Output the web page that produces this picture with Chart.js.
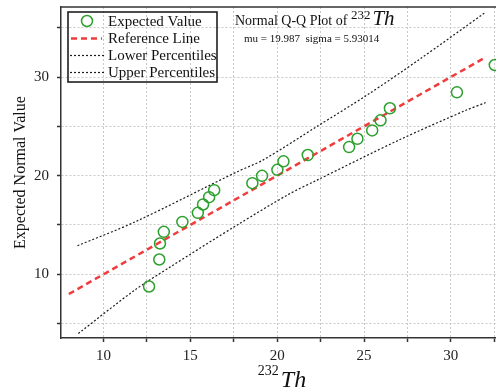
<!DOCTYPE html>
<html>
<head>
<meta charset="utf-8">
<script src="https://cdn.jsdelivr.net/npm/chart.js@4"></script>
<style>
  body { margin: 0; background: #fff; }
  #wrap { width: 496px; height: 390px; }
</style>
</head>
<body>
<div id="wrap"><canvas id="qq" width="496" height="390"></canvas></div>
<script>
// 232Th measured values (x) vs expected normal value (y)
const thValues = [12.62, 13.21, 13.25, 13.47, 14.54, 15.43, 15.73, 16.08, 16.37, 18.57, 19.13,
  20.01, 20.36, 21.76, 24.14, 24.62, 25.47, 25.95, 26.49, 30.35, 32.53];
const expectedValues = [8.76, 11.5, 13.12, 14.3, 15.31, 16.23, 17.08, 17.82, 18.53, 19.24, 19.98,
  20.59, 21.45, 22.09, 22.9, 23.74, 24.59, 25.61, 26.83, 28.45, 31.22];

const refX = [8.0, 32.0];
const refY = [8.0, 32.0];

const upperX = [8.5, 11.8, 17.7, 19.2, 22.3, 25.2, 28.2, 31.95];
const upperY = [12.9, 15.3, 20.4, 21.6, 25.0, 28.2, 31.8, 36.5];
const lowerX = [8.55, 11.8, 13.8, 17.7, 20.65, 22.3, 27.0, 30.9, 32.0];
const lowerY = [4.0, 8.4, 10.7, 15.0, 18.1, 19.55, 23.6, 26.65, 27.4];

const xTicks = [10, 12.5, 15, 17.5, 20, 22.5, 25, 27.5, 30, 32.5];
const yTicks = [5, 10, 15, 20, 25, 30, 35];

const labels = ["Expected Value", "Reference Line", "Lower Percentiles", "Upper Percentiles"];
const mu = 19.987, sigma = 5.93014;

const SERIF = "'Liberation Serif', 'DejaVu Serif', serif";
const green = "rgb(44,160,44)";
const red = "rgb(240,60,60)";
const dark = "#1a1a1a";

const toXY = (xs, ys) => xs.map((x, i) => ({ x: x, y: ys[i] }));

// draws frame top, legend, in-plot title and axis titles
const decor = {
  id: "decor",
  afterDraw(chart) {
    const ctx = chart.ctx;
    const a = chart.chartArea;
    ctx.save();
    // top frame line
    ctx.strokeStyle = "#333";
    ctx.lineWidth = 1.5;
    ctx.beginPath();
    ctx.moveTo(a.left, a.top);
    ctx.lineTo(a.right, a.top);
    ctx.stroke();

    // legend box
    ctx.lineWidth = 1.5;
    ctx.strokeStyle = "#111";
    ctx.strokeRect(68, 12, 149, 70);
    const rows = [21, 38.5, 55.5, 72.5];
    ctx.font = "15px " + SERIF;
    ctx.fillStyle = "#111";
    ctx.textBaseline = "middle";
    rows.forEach((y, i) => {
      ctx.save();
      if (i === 0) {
        ctx.strokeStyle = green;
        ctx.lineWidth = 1.5;
        ctx.beginPath();
        ctx.arc(87, y, 5.5, 0, Math.PI * 2);
        ctx.stroke();
      } else if (i === 1) {
        ctx.strokeStyle = red;
        ctx.lineWidth = 2.5;
        ctx.setLineDash([6, 4]);
        ctx.beginPath();
        ctx.moveTo(71, y);
        ctx.lineTo(102, y);
        ctx.stroke();
      } else {
        ctx.strokeStyle = dark;
        ctx.lineWidth = 1.2;
        ctx.setLineDash([2, 2]);
        ctx.beginPath();
        ctx.moveTo(70, y);
        ctx.lineTo(104, y);
        ctx.stroke();
      }
      ctx.restore();
      ctx.fillText(labels[i], 108, y + 1);
    });

    // title inside plot
    ctx.textBaseline = "alphabetic";
    let x = 235;
    ctx.font = "14px " + SERIF;
    const t1 = "Normal Q-Q Plot of ";
    ctx.fillText(t1, x, 25);
    x += ctx.measureText(t1).width;
    ctx.font = "13px " + SERIF;
    ctx.fillText("232", x, 19);
    x += ctx.measureText("232").width + 2;
    ctx.font = "italic 21px " + SERIF;
    ctx.fillText("Th", x, 25);
    ctx.font = "11px " + SERIF;
    ctx.fillText("mu = " + mu + "  sigma = " + sigma, 244, 42);

    // x axis title
    ctx.font = "14px " + SERIF;
    const supW = ctx.measureText("232").width;
    ctx.font = "italic 24px " + SERIF;
    const thW = ctx.measureText("Th").width;
    let xt = 282 - (supW + thW + 2) / 2;
    ctx.font = "14px " + SERIF;
    ctx.fillText("232", xt, 375);
    ctx.font = "italic 24px " + SERIF;
    ctx.fillText("Th", xt + supW + 2, 387);

    // y axis title
    ctx.translate(21, (a.top + a.bottom) / 2);
    ctx.rotate(-Math.PI / 2);
    ctx.font = "16px " + SERIF;
    ctx.textAlign = "center";
    ctx.textBaseline = "middle";
    ctx.fillText("Expected Normal Value", 0, 0);
    ctx.restore();
  }
};

const gridCommon = {
  color: "#c8c8c8",
  lineWidth: 1,
  drawTicks: true,
  tickLength: 4,
  tickColor: "#333",
  tickWidth: 1.5,
  tickBorderDash: []
};

const noPad = (s) => {
  s.paddingTop = 0;
  s.paddingBottom = 0;
  s.paddingLeft = 0;
  s.paddingRight = 0;
};

new Chart(document.getElementById("qq"), {
  type: "scatter",
  data: {
    datasets: [
      {
        label: labels[0],
        data: toXY(thValues, expectedValues),
        pointRadius: 5.5,
        pointHoverRadius: 5.5,
        pointBorderWidth: 1.5,
        pointBorderColor: green,
        pointBackgroundColor: "rgba(0,0,0,0)",
        order: 0
      },
      {
        label: labels[1],
        data: toXY(refX, refY),
        showLine: true,
        pointRadius: 0,
        borderColor: red,
        borderWidth: 2.5,
        borderDash: [6, 4],
        order: 1
      },
      {
        label: labels[2],
        data: toXY(lowerX, lowerY),
        showLine: true,
        tension: 0.3,
        pointRadius: 0,
        borderColor: dark,
        borderWidth: 1.2,
        borderDash: [2, 2],
        order: 2
      },
      {
        label: labels[3],
        data: toXY(upperX, upperY),
        showLine: true,
        tension: 0.3,
        pointRadius: 0,
        borderColor: dark,
        borderWidth: 1.2,
        borderDash: [2, 2],
        order: 2
      }
    ]
  },
  options: {
    responsive: false,
    animation: false,
    events: [],
    layout: { autoPadding: false, padding: { top: 7, right: 0, left: 0, bottom: 0 } },
    plugins: {
      legend: { display: false },
      tooltip: { enabled: false }
    },
    scales: {
      x: {
        type: "linear",
        min: 7.55,
        max: 32.6,
        afterBuildTicks: (s) => { s.ticks = xTicks.map(v => ({ value: v })); },
        afterFit: (s) => { s.height = 52; noPad(s); },
        grid: gridCommon,
        border: { color: "#333", width: 1.5, dash: [2, 2] },
        ticks: {
          padding: 5,
          color: "#222",
          font: { family: SERIF, size: 15 },
          callback: (v) => (v % 5 === 0 ? v : "")
        }
      },
      y: {
        type: "linear",
        min: 3.54,
        max: 37.1,
        afterBuildTicks: (s) => { s.ticks = yTicks.map(v => ({ value: v })); },
        afterFit: (s) => { s.width = 61; noPad(s); },
        grid: gridCommon,
        border: { color: "#333", width: 1.5, dash: [2, 2] },
        ticks: {
          padding: 8,
          color: "#222",
          font: { family: SERIF, size: 15 },
          callback: (v) => (v % 10 === 0 ? v : "")
        }
      }
    }
  },
  plugins: [decor]
});
</script>
</body>
</html>
